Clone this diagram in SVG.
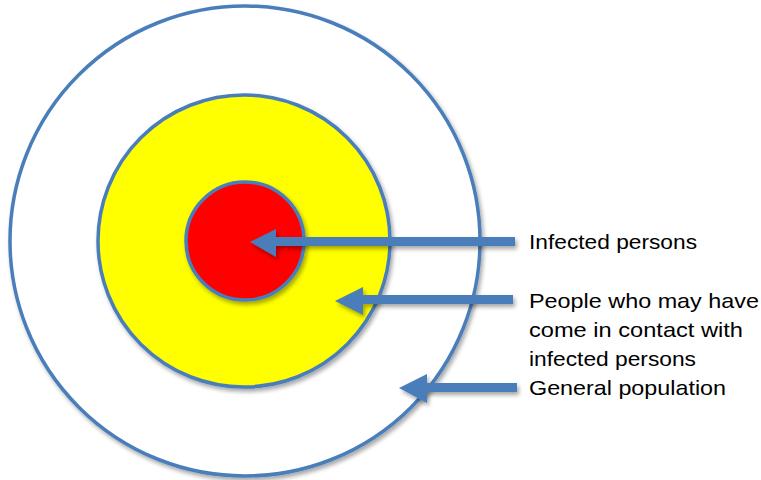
<svg xmlns="http://www.w3.org/2000/svg" width="761" height="480" viewBox="0 0 761 480">
<defs>
<filter id="sh" x="-20%" y="-20%" width="140%" height="140%">
<feGaussianBlur in="SourceAlpha" stdDeviation="2"/>
<feOffset dx="2" dy="3" result="b"/>
<feComponentTransfer><feFuncA type="linear" slope="0.35"/></feComponentTransfer>
<feMerge><feMergeNode/><feMergeNode in="SourceGraphic"/></feMerge>
</filter>
</defs>
<style>
.ring{stroke:#4a7ebb;stroke-width:3.5}
.arrow{fill:#4a7ebb}
.lbl{font-family:"Liberation Sans",Arial,sans-serif;font-size:21px;fill:#000}
</style>
<rect width="761" height="480" fill="#fff"/>
<g id="general" filter="url(#sh)"><circle class="ring" cx="245" cy="241" r="235" fill="#fff"/></g>
<g id="contacts" filter="url(#sh)"><circle class="ring" cx="244" cy="241" r="146" fill="#ffff00"/></g>
<g id="infected" filter="url(#sh)"><circle class="ring" cx="245" cy="241" r="59" fill="#ff0000"/></g>
<g id="connectors" filter="url(#sh)">
<polygon class="arrow" points="250,242 276,229 276,237 515,237 515,246 276,246 276,257"/>
<polygon class="arrow" points="335,301 363,287 363,295 513,295 513,304 363,304 363,315"/>
<polygon class="arrow" points="399,388 427,374 427,383 517,383 517,392 427,392 427,403"/>
</g>
<g id="labels">
<text class="lbl" x="529" y="249" textLength="168" lengthAdjust="spacingAndGlyphs">Infected persons</text>
<text class="lbl" x="529" y="308" textLength="230" lengthAdjust="spacingAndGlyphs">People who may have</text>
<text class="lbl" x="529" y="337" textLength="214" lengthAdjust="spacingAndGlyphs">come in contact with</text>
<text class="lbl" x="529" y="366" textLength="167" lengthAdjust="spacingAndGlyphs">infected persons</text>
<text class="lbl" x="529" y="395" textLength="197" lengthAdjust="spacingAndGlyphs">General population</text>
</g>
</svg>
